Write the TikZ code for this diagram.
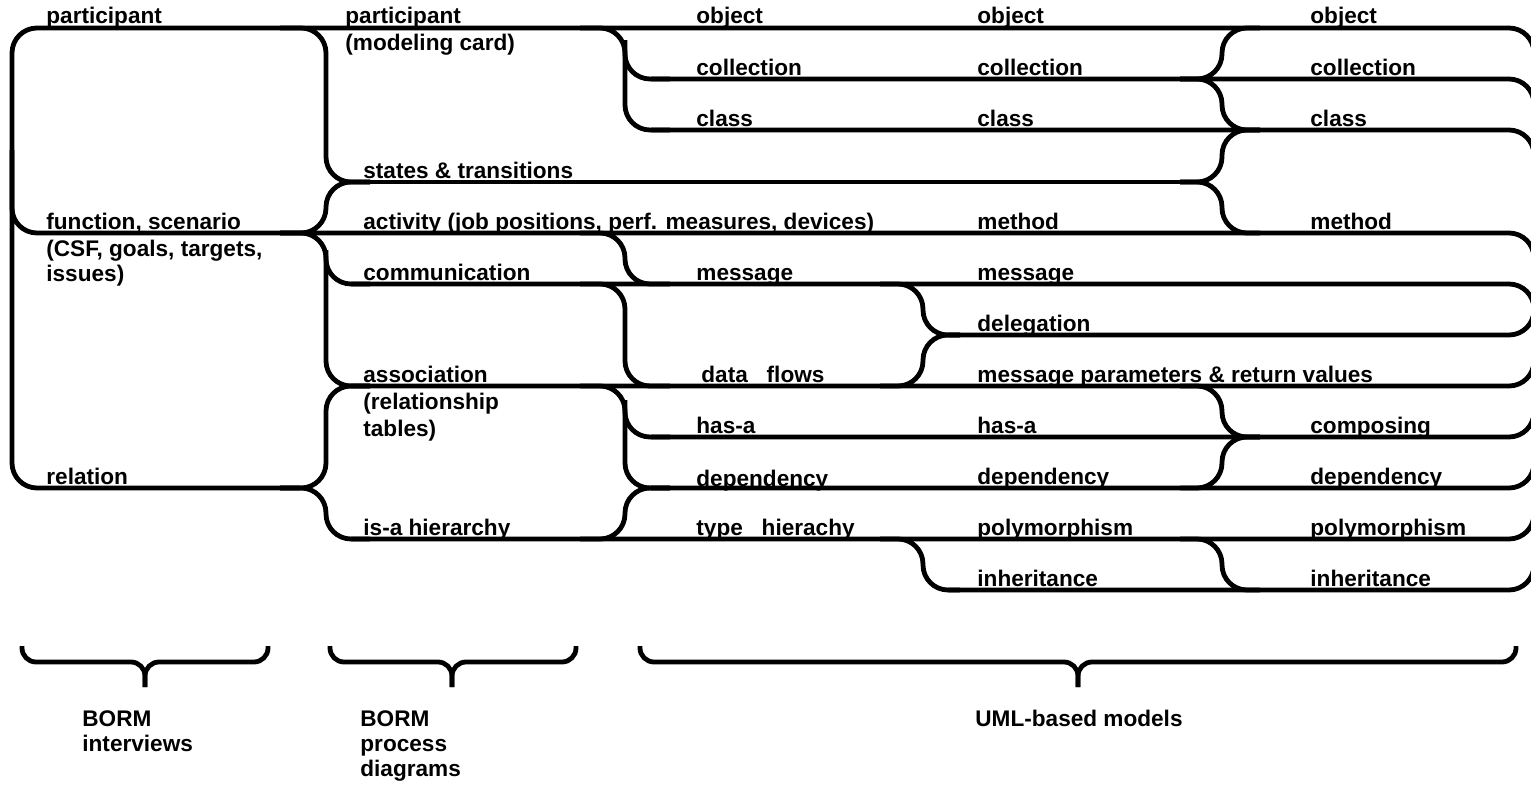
\documentclass[tikz,border=0pt]{standalone}
\usepackage{fontspec}
\setmainfont{Liberation Sans}
\begin{document}
\begin{tikzpicture}[x=0.5pt, y=-0.5pt,
  band/.style={line width=2.4pt, rounded corners=12.5pt},
  curl/.style={line width=2.4pt, rounded corners=7pt},
  lbl/.style={anchor=base west, inner sep=0pt, font=\fontsize{11.3}{12.5}\selectfont\bfseries}]
\clip (0,0) rectangle (1531,787);

% long lines, bent down or up at the right border
\draw[band] (300,488) -- (12,488) -- (12,28) -- (1534,28) -- (1534,70);
\draw[band] (651,79) -- (1534,79) -- (1534,120);
\draw[band] (651,130) -- (1534,130) -- (1534,170);
\draw[band] (351,182) -- (1197,182);
\draw[band] (12,150) -- (12,233) -- (1534,233) -- (1534,275);
\draw[band] (351,284) -- (1534,284) -- (1534,325);
\draw[band] (948,335) -- (1534,335) -- (1534,295);
\draw[band] (351,386) -- (1534,386) -- (1534,345);
\draw[band] (651,437) -- (1534,437) -- (1534,395);
\draw[band] (651,488) -- (1534,488) -- (1534,445);
\draw[band] (351,539) -- (1534,539) -- (1534,497);
\draw[band] (948,590) -- (1534,590) -- (1534,548);

% first split
\draw[band] (280,28) -- (326,28) -- (326,182) -- (370,182);
\draw[band] (370,182) -- (326,182) -- (326,233) -- (280,233);
\draw[band] (280,233) -- (326,233) -- (326,386) -- (370,386);
\draw[band] (326,250) -- (326,284) -- (370,284);
\draw[band] (370,386) -- (326,386) -- (326,488) -- (280,488);
\draw[band] (280,488) -- (326,488) -- (326,539) -- (370,539);

% second split
\draw[band] (580,28) -- (625,28) -- (625,130) -- (670,130);
\draw[band] (625,40) -- (625,79) -- (670,79);
\draw[band] (580,233) -- (625,233) -- (625,284) -- (670,284);
\draw[band] (580,284) -- (625,284) -- (625,386) -- (670,386);
\draw[band] (580,386) -- (625,386) -- (625,488) -- (670,488);
\draw[band] (625,400) -- (625,437) -- (670,437);
\draw[band] (670,488) -- (625,488) -- (625,539) -- (580,539);

% third split
\draw[band] (880,284) -- (923,284) -- (923,335) -- (960,335);
\draw[band] (960,335) -- (923,335) -- (923,386) -- (880,386);
\draw[band] (880,539) -- (923,539) -- (923,590) -- (960,590);

% fourth split
\draw[band] (1260,28) -- (1222,28) -- (1222,79) -- (1180,79);
\draw[band] (1180,79) -- (1222,79) -- (1222,130) -- (1260,130);
\draw[band] (1260,130) -- (1222,130) -- (1222,182) -- (1180,182);
\draw[band] (1180,182) -- (1222,182) -- (1222,233) -- (1260,233);
\draw[band] (1180,386) -- (1222,386) -- (1222,437) -- (1260,437);
\draw[band] (1260,437) -- (1222,437) -- (1222,488) -- (1180,488);
\draw[band] (1180,539) -- (1222,539) -- (1222,590) -- (1260,590);

% interviews
\node[lbl] (intPart) at (46,24) {participant};
\node[lbl] (intFunc) at (46,229) {function, scenario};
\node[lbl] (intFunc2) at (46,256) {(CSF, goals, targets,};
\node[lbl] (intFunc3) at (46,281) {issues)};
\node[lbl] (intRel) at (46,484) {relation};

% process diagrams
\node[lbl] (bpPart) at (345,24) {participant};
\node[lbl] (bpPart2) at (345,50) {(modeling card)};
\node[lbl] (bpState) at (363,178) {states \& transitions};
\node[lbl] (bpAct) at (363,229) {activity (job positions, perf. measures, devices)};
\node[lbl] (bpComm) at (363,280) {communication};
\node[lbl] (bpAssoc) at (363,382) {association};
\node[lbl] (bpAssoc2) at (363,409) {(relationship};
\node[lbl] (bpAssoc3) at (363,436) {tables)};
\node[lbl] (bpIsa) at (363,535) {is-a hierarchy};

% first UML column
\node[lbl] (u1Obj) at (696,24) {object};
\node[lbl] (u1Coll) at (696,75) {collection};
\node[lbl] (u1Class) at (696,126) {class};
\node[lbl] (u1Msg) at (696,280) {message};
\node[lbl] (u1Flow) at (701,382) {data\ \ \ flows};
\node[lbl] (u1Has) at (696,433) {has-a};
\node[lbl] (u1Dep) at (696,486) {dependency};
\node[lbl] (u1Type) at (696,535) {type\ \ \ hierachy};

% second UML column
\node[lbl] (u2Obj) at (977,24) {object};
\node[lbl] (u2Coll) at (977,75) {collection};
\node[lbl] (u2Class) at (977,126) {class};
\node[lbl] (u2Meth) at (977,229) {method};
\node[lbl] (u2Msg) at (977,280) {message};
\node[lbl] (u2Deleg) at (977,331) {delegation};
\node[lbl] (u2Param) at (977,382) {message parameters \& return values};
\node[lbl] (u2Has) at (977,433) {has-a};
\node[lbl] (u2Dep) at (977,484) {dependency};
\node[lbl] (u2Poly) at (977,535) {polymorphism};
\node[lbl] (u2Inh) at (977,586) {inheritance};

% third UML column
\node[lbl] (u3Obj) at (1310,24) {object};
\node[lbl] (u3Coll) at (1310,75) {collection};
\node[lbl] (u3Class) at (1310,126) {class};
\node[lbl] (u3Meth) at (1310,229) {method};
\node[lbl] (u3Comp) at (1310,433) {composing};
\node[lbl] (u3Dep) at (1310,484) {dependency};
\node[lbl] (u3Poly) at (1310,535) {polymorphism};
\node[lbl] (u3Inh) at (1310,586) {inheritance};

% braces underneath
\draw[curl] (22,646) -- (22,662) -- (145,662) -- (145,687);
\draw[curl] (268,646) -- (268,662) -- (145,662) -- (145,687);
\draw[curl] (330,646) -- (330,662) -- (452,662) -- (452,687);
\draw[curl] (576,646) -- (576,662) -- (452,662) -- (452,687);
\draw[curl] (640,646) -- (640,662) -- (1078,662) -- (1078,687);
\draw[curl] (1516,646) -- (1516,662) -- (1078,662) -- (1078,687);

\node[lbl] (interviews) at (82,726) {BORM};
\node[lbl] (interviews2) at (82,751) {interviews};
\node[lbl] (process) at (360,726) {BORM};
\node[lbl] (process2) at (360,751) {process};
\node[lbl] (process3) at (360,776) {diagrams};
\node[lbl] (uml) at (975,726) {UML-based models};
\end{tikzpicture}
\end{document}
